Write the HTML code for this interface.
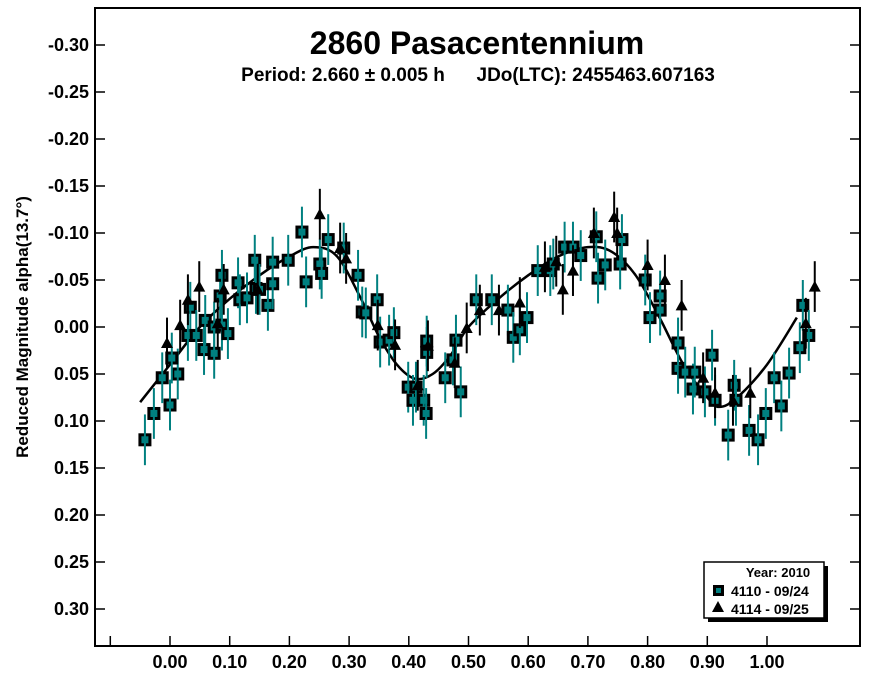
<!DOCTYPE html>
<html><head><meta charset="utf-8"><style>
body{margin:0;background:#fff;}
svg text{font-family:"Liberation Sans",Arial,sans-serif;font-weight:bold;fill:#000;}
</style></head><body>
<svg id="chart" width="872" height="676" xmlns="http://www.w3.org/2000/svg">
<rect x="0" y="0" width="872" height="676" fill="#fff"/>
<rect x="95" y="8" width="765" height="638" fill="none" stroke="#000" stroke-width="2"/>
<text x="477" y="54" font-size="32" text-anchor="middle">2860 Pasacentennium</text>
<text x="478" y="81" font-size="19" text-anchor="middle" xml:space="preserve" style="white-space:pre">Period: 2.660 ± 0.005 h      JDo(LTC): 2455463.607163</text>
<text transform="translate(28,327) rotate(-90)" font-size="17" text-anchor="middle">Reduced Magnitude alpha(13.7°)</text>
<g id="axes"></g>
<g id="curve"></g>
<g id="series"></g>
<g>
<rect x="708" y="566" width="120" height="56" fill="#000"/>
<rect x="704" y="562" width="120" height="56" fill="#fff" stroke="#000" stroke-width="1.5"/>
<text x="778" y="577" font-size="13" text-anchor="middle">Year: 2010</text>
<rect x="713" y="585" width="11" height="11" fill="#000"/>
<rect x="716" y="588" width="5" height="5" fill="#008080"/>
<text x="731" y="596" font-size="14">4110 - 09/24</text>
<polygon points="718,601 712,612 724,612" fill="#000"/>
<text x="731" y="614" font-size="14">4114 - 09/25</text>
</g>
</svg>
<script>
const xTicks=[0.0,0.1,0.2,0.3,0.4,0.5,0.6,0.7,0.8,0.9,1.0];
const xTickLabels=["0.00","0.10","0.20","0.30","0.40","0.50","0.60","0.70","0.80","0.90","1.00"];
const yTicks=[-0.30,-0.25,-0.20,-0.15,-0.10,-0.05,0.00,0.05,0.10,0.15,0.20,0.25,0.30];
const yTickLabels=["-0.30","-0.25","-0.20","-0.15","-0.10","-0.05","0.00","0.05","0.10","0.15","0.20","0.25","0.30"];
const sqPhase=[-0.042,-0.027,-0.013,0,0.013,0.003,0.03,0.034,0.044,0.057,0.059,0.074,0.074,0.084,0.087,0.087,0.097,0.114,0.117,0.129,0.142,0.144,0.15,0.164,0.172,0.172,0.198,0.221,0.228,0.251,0.254,0.265,0.291,0.315,0.322,0.328,0.347,0.352,0.367,0.375,0.399,0.407,0.412,0.425,0.429,0.43,0.43,0.461,0.474,0.479,0.487,0.513,0.539,0.566,0.575,0.586,0.598,0.616,0.637,0.642,0.661,0.675,0.688,0.714,0.717,0.729,0.754,0.757,0.796,0.804,0.821,0.821,0.851,0.851,0.863,0.876,0.879,0.908,0.896,0.913,0.935,0.945,0.948,0.97,0.985,0.998,1.012,1.024,1.037,1.055,1.06,1.07];
const sqMag=[0.12,0.092,0.054,0.083,0.05,0.033,0.009,-0.021,0.009,0.024,-0.007,0,0.028,-0.033,-0.055,-0.002,0.007,-0.047,-0.029,-0.031,-0.071,-0.041,-0.04,-0.023,-0.046,-0.069,-0.071,-0.101,-0.048,-0.067,-0.057,-0.093,-0.084,-0.055,-0.016,-0.015,-0.029,0.016,0.014,0.006,0.064,0.078,0.064,0.078,0.092,0.015,0.027,0.054,0.035,0.014,0.069,-0.029,-0.029,-0.018,0.011,0.003,-0.01,-0.06,-0.06,-0.067,-0.085,-0.085,-0.076,-0.096,-0.052,-0.066,-0.067,-0.093,-0.05,-0.01,-0.033,-0.018,0.017,0.044,0.048,0.066,0.048,0.03,0.069,0.078,0.115,0.062,0.078,0.11,0.12,0.092,0.054,0.084,0.049,0.022,-0.023,0.009];
const trPhase=[-0.005,0.017,0.03,0.049,0.08,0.09,0.147,0.251,0.285,0.295,0.348,0.377,0.415,0.432,0.477,0.497,0.519,0.551,0.586,0.628,0.647,0.658,0.675,0.71,0.744,0.749,0.8,0.829,0.857,0.893,0.913,0.943,0.972,1.065,1.08];
const trMag=[0.017,-0.002,-0.029,-0.043,-0.004,-0.04,-0.04,-0.12,-0.084,-0.073,-0.002,0.019,0.062,0.02,0.038,0.001,-0.018,-0.018,-0.026,-0.064,-0.07,-0.04,-0.06,-0.1,-0.117,-0.1,-0.066,-0.05,-0.023,0.054,0.07,0.078,0.07,-0.004,-0.043];
const fitPhase=[-0.05,0.0,0.05,0.1,0.15,0.2,0.24,0.28,0.32,0.35,0.38,0.41,0.44,0.47,0.5,0.55,0.6,0.65,0.7,0.74,0.78,0.82,0.86,0.9,0.92,0.95,1.0,1.05];
const fitMag=[0.08,0.04,0.0,-0.03,-0.055,-0.075,-0.085,-0.075,-0.03,0.01,0.04,0.055,0.05,0.03,0.0,-0.03,-0.055,-0.075,-0.085,-0.08,-0.055,-0.01,0.04,0.075,0.085,0.075,0.04,-0.01];
const errBar=0.027;
const NS="http://www.w3.org/2000/svg";
function X(p){return 170+p*597;}
function Y(m){return 327+m*940;}
function mk(tag,attrs,parent){const e=document.createElementNS(NS,tag);for(const k in attrs)e.setAttribute(k,attrs[k]);parent.appendChild(e);return e;}
const axes=document.getElementById('axes');
xTicks.forEach((t,i)=>{
  const l=mk('line',{x1:X(t),x2:X(t),y1:646,y2:636,stroke:'#000','stroke-width':1.5},axes);
  
  
  const tx=mk('text',{x:X(t),y:668,'font-size':18,'text-anchor':'middle'},axes);
  tx.textContent=xTickLabels[i];
  
  
});
const lt=mk('line',{x1:X(-0.1),x2:X(-0.1),y1:646,y2:636,stroke:'#000','stroke-width':1.5},axes);


yTicks.forEach((t,i)=>{
  const a=mk('line',{x1:95,x2:105,y1:Y(t),y2:Y(t),stroke:'#000','stroke-width':1.5},axes);
  
  
  const b=mk('line',{x1:850,x2:860,y1:Y(t),y2:Y(t),stroke:'#000','stroke-width':1.5},axes);
  
  
  const tx=mk('text',{x:89,y:Y(t)+6,'font-size':18,'text-anchor':'end'},axes);
  tx.textContent=yTickLabels[i];
  
  
});
const pts=fitPhase.map((p,i)=>[X(p),Y(fitMag[i])]);
let d='M'+pts[0][0]+','+pts[0][1];
for(let i=0;i<pts.length-1;i++){
  const p0=pts[Math.max(0,i-1)],p1=pts[i],p2=pts[i+1],p3=pts[Math.min(pts.length-1,i+2)];
  d+=' C'+(p1[0]+(p2[0]-p0[0])/6)+','+(p1[1]+(p2[1]-p0[1])/6)+' '+(p2[0]-(p3[0]-p1[0])/6)+','+(p2[1]-(p3[1]-p1[1])/6)+' '+p2[0]+','+p2[1];
}
const cv=mk('path',{d:d,fill:'none',stroke:'#000','stroke-width':2.5},document.getElementById('curve'));


const ser=document.getElementById('series');
sqPhase.forEach((p,i)=>{
  const x=X(p),y=Y(sqMag[i]);
  const g=mk('g',{},ser);
  
  
  mk('rect',{x:x-6.5,y:y-6.5,width:13,height:13,fill:'#000'},g);
  mk('rect',{x:x-3.5,y:y-3.5,width:7,height:7,fill:'#008080'},g);
  mk('line',{x1:x,x2:x,y1:Y(sqMag[i]-errBar),y2:Y(sqMag[i]+errBar),stroke:'#008080','stroke-width':2},g);
});
trPhase.forEach((p,i)=>{
  const x=X(p),y=Y(trMag[i]);
  const g=mk('g',{},ser);
  
  
  mk('line',{x1:x,x2:x,y1:Y(trMag[i]-errBar),y2:Y(trMag[i]+errBar),stroke:'#000','stroke-width':2},g);
  mk('polygon',{points:(x)+','+(y-6)+' '+(x-6)+','+(y+5)+' '+(x+6)+','+(y+5),fill:'#000'},g);
});
</script>
</body></html>
